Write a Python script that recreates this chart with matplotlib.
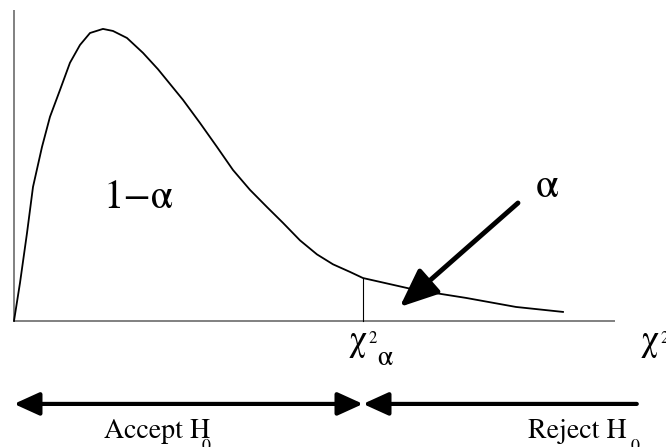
import numpy as np
import matplotlib.pyplot as plt

plt.rcParams['font.family'] = ['STIXGeneral', 'Liberation Serif', 'DejaVu Serif']

# density curve (x in chi-square units, y scaled so peak = 1)
curve_x = [0.0, 0.10, 0.217, 0.317, 0.467, 0.60, 0.767, 0.933, 1.10, 1.267,
           1.483, 1.65, 1.883, 2.15, 2.40, 2.817, 3.10, 3.383, 3.65,
           3.933, 4.217, 4.483, 4.767, 5.05, 5.317, 5.60, 5.817, 6.70, 7.533,
           8.367, 9.15]
curve_y = [0.0, 0.130, 0.301, 0.459, 0.596, 0.699, 0.791, 0.884, 0.945, 0.986,
           1.0, 0.993, 0.969, 0.918, 0.862, 0.757, 0.678, 0.596, 0.517,
           0.449, 0.390, 0.336, 0.276, 0.228, 0.194, 0.168, 0.147, 0.106, 0.079,
           0.048, 0.031]

crit_x = 5.817
crit_y = 0.147
x_end = 10.02
y_top = 1.065

fig = plt.figure(figsize=(6.66, 4.47), dpi=100)
ax = fig.add_axes([0, 0, 1, 1])
ax.set_xlim(-0.233, 10.867)
ax.set_ylim(-0.4315, 1.099)
ax.axis('off')

# axes
axis_col = '#808080'
ax.plot([0, 0], [0, y_top], color=axis_col, lw=1.4, solid_capstyle='butt')
ax.plot([0, x_end], [0, 0], color=axis_col, lw=1.4, solid_capstyle='butt')

# curve + critical value line
ax.plot(curve_x, curve_y, color='black', lw=1.3, solid_joinstyle='round')
ax.plot([crit_x, crit_x], [0, crit_y], color='black', lw=0.8)

# labels on the chart
ax.text(2.07, 0.42, '1\u2212α', fontsize=29, ha='center', va='center')
ax.text(8.70, 0.425, 'α', fontsize=30, ha='left', va='baseline')
ax.annotate('', xy=(6.43, 0.048), xytext=(8.40, 0.404),
            arrowprops=dict(arrowstyle='-|>,head_length=1.3,head_width=0.55',
                            lw=3.5, color='black', mutation_scale=18,
                            shrinkA=0, shrinkB=0))

# chi-square labels: chi, small superscript 2, then alpha
ax.text(5.58, -0.099, 'χ', fontsize=26, ha='left', va='baseline')
ax.text(5.91, -0.075, '2', fontsize=12, ha='left', va='baseline')
ax.text(6.05, -0.151, 'α', fontsize=20, ha='left', va='baseline')
ax.text(10.44, -0.099, 'χ', fontsize=26, ha='left', va='baseline')
ax.text(10.78, -0.075, '2', fontsize=12, ha='left', va='baseline')

# accept / reject regions
y_arr = -0.284
ax.annotate('', xy=(0.0, y_arr), xytext=(crit_x, y_arr),
            arrowprops=dict(arrowstyle='<|-|>,head_length=1.1,head_width=0.5',
                            lw=3, color='black', mutation_scale=14,
                            shrinkA=0, shrinkB=0))
ax.annotate('', xy=(crit_x, y_arr), xytext=(10.38, y_arr),
            arrowprops=dict(arrowstyle='-|>,head_length=1.1,head_width=0.5',
                            lw=3, color='black', mutation_scale=14,
                            shrinkA=0, shrinkB=0))
ax.text(1.50, -0.40, 'Accept H', fontsize=20, ha='left', va='baseline')
ax.text(3.13, -0.445, '0', fontsize=13, ha='left', va='baseline')
ax.text(8.56, -0.40, 'Reject H', fontsize=20, ha='left', va='baseline')
ax.text(10.27, -0.445, '0', fontsize=13, ha='left', va='baseline')

fig.savefig('out.png', dpi=100)
